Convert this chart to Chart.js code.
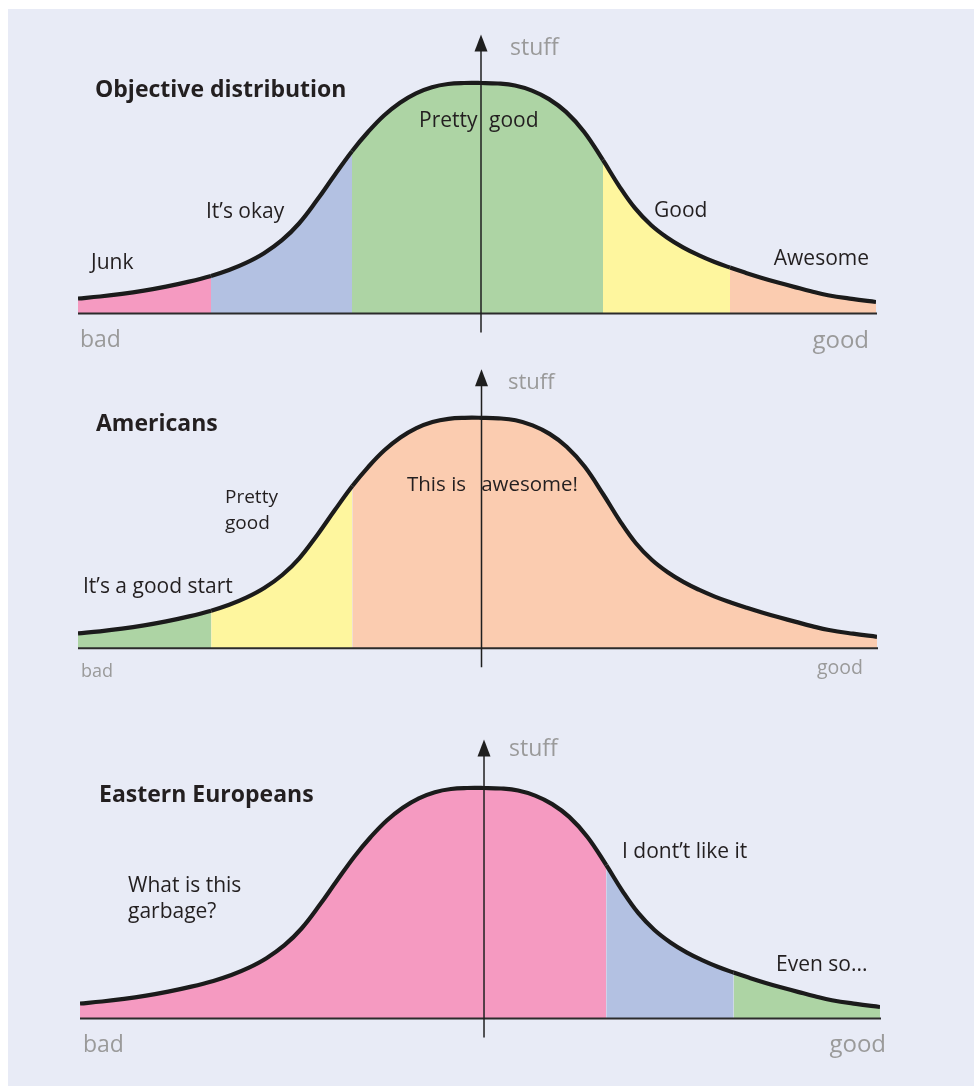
<!DOCTYPE html>
<html>
<head>
<meta charset="utf-8">
<script src="https://cdn.jsdelivr.net/npm/chart.js@4.4.1/dist/chart.umd.min.js"></script>
<style>
  html, body { margin: 0; padding: 0; background: #ffffff; width: 974px; height: 1086px; overflow: hidden; }
  #panel { position: absolute; left: 8px; top: 9px; right: 0; bottom: 0; background: #e8ebf6; }
  canvas { position: absolute; left: 0; }
</style>
</head>
<body>
<div id="panel"></div>
<canvas id="c1" width="974" height="362" style="top:0px"></canvas>
<canvas id="c2" width="974" height="340" style="top:362px"></canvas>
<canvas id="c3" width="974" height="384" style="top:702px"></canvas>
<script>
// ---------- DATA ----------
// position along the quality axis (bad -> good) and height of the curve ("stuff")
const curveX = [0, 22, 44, 66, 88, 111, 133, 151, 168, 186, 204, 221, 239, 256, 274,
                290, 306, 322, 338, 354, 370, 386, 403, 420, 437, 454, 471, 488, 506, 525,
                541, 557, 573, 589, 605, 620, 636, 652, 668, 684, 700, 717, 733, 750, 774, 798];
const curveY = [15, 17, 19.6, 22.9, 26.9, 31.9, 37.6, 43.5, 50.6, 60.3, 73.3, 90, 113.4, 137.5, 162.3,
                181.5, 198, 210.8, 220.2, 226.3, 229.5, 230.5, 230.5, 230, 228, 222.9, 214.4, 201.6, 181.8, 153.3,
                127.7, 105.3, 88.5, 76, 66.1, 58.6, 51.7, 45.9, 40.6, 35.6, 31, 26.4, 22.2, 18.3, 14.6, 11.5];
// band edges along the quality axis
const bandEdges = [0, 133, 274, 525, 652, 798];
// objective levels
const levels = ['Junk', 'It’s okay', 'Pretty good', 'Good', 'Awesome'];
// which objective level each band is perceived as
const objectiveLevels = [0, 1, 2, 3, 4];
const americanLevels  = [2, 3, 4, 4, 4];
const easternLevels   = [0, 0, 0, 1, 2];
const axisPosition = 403;

// ---------- STYLE ----------
const levelColors = ['#f59ac1', '#b3c1e2', '#add4a4', '#fef69e', '#fbccb0'];
const FONT = '"Open Sans", "Noto Sans", sans-serif';
const DARK = '#231f20';
const GREY = '#9a9a9a';

function bandIndex(x) {
  for (let i = 0; i < bandEdges.length - 1; i++) {
    if (x >= bandEdges[i] && x < bandEdges[i + 1]) return i;
  }
  return bandEdges.length - 2;
}

const decorPlugin = {
  id: 'decor',
  afterDatasetsDraw(chart, args, opts) {
    const ctx = chart.ctx;
    const xs = chart.scales.x, ys = chart.scales.y;
    const y0 = ys.getPixelForValue(0);
    const ax = xs.getPixelForValue(axisPosition);
    ctx.save();
    // baseline
    ctx.strokeStyle = '#2b2b2b';
    ctx.lineWidth = 2;
    ctx.beginPath();
    ctx.moveTo(xs.getPixelForValue(0), y0);
    ctx.lineTo(xs.getPixelForValue(798) + 1, y0);
    ctx.stroke();
    // vertical axis
    const tipY = ys.getPixelForValue(279);
    ctx.lineWidth = 1.5;
    ctx.strokeStyle = '#1f1f1f';
    ctx.beginPath();
    ctx.moveTo(ax, ys.getPixelForValue(-19));
    ctx.lineTo(ax, tipY + 10);
    ctx.stroke();
    ctx.fillStyle = '#1f1f1f';
    ctx.beginPath();
    ctx.moveTo(ax, tipY);
    ctx.lineTo(ax - 6.5, tipY + 17);
    ctx.lineTo(ax + 6.5, tipY + 17);
    ctx.closePath();
    ctx.fill();
    // texts
    const top = opts.top || 0;
    ctx.textBaseline = 'alphabetic';
    for (const t of opts.texts) {
      ctx.font = (t.bold ? 'bold ' : '') + t.size + 'px ' + FONT;
      ctx.fillStyle = t.grey ? GREY : DARK;
      ctx.textAlign = t.align || 'left';
      ctx.fillText(t.t, t.x, t.y - top);
    }
    ctx.restore();
  }
};

function makeChart(id, bandLevels, pad, top, texts) {
  return new Chart(document.getElementById(id), {
    type: 'line',
    data: {
      datasets: [{
        data: curveX.map((x, i) => ({ x: x, y: curveY[i] })),
        borderColor: '#1b1b1b',
        borderWidth: 4.2,
        pointRadius: 0,
        tension: 0.4,
        fill: 'origin',
        backgroundColor: levelColors[bandLevels[0]],
        segment: {
          backgroundColor: c => levelColors[bandLevels[bandIndex((c.p0.parsed.x + c.p1.parsed.x) / 2)]]
        }
      }]
    },
    options: {
      responsive: false,
      animation: false,
      layout: { padding: pad },
      plugins: { legend: { display: false }, tooltip: { enabled: false }, decor: { texts: texts, top: top } },
      scales: {
        x: { type: 'linear', min: 0, max: 798, display: false },
        y: { min: 0, max: 240, display: false }
      }
    },
    plugins: [decorPlugin]
  });
}

makeChart('c1', objectiveLevels, { left: 78, right: 98, top: 73.5, bottom: 48.5 }, 0, [
  { t: 'Objective distribution', x: 95, y: 97, size: 23, bold: true },
  { t: 'stuff', x: 510, y: 55, size: 23, grey: true },
  { t: 'Junk', x: 91, y: 269, size: 21 },
  { t: 'It’s okay', x: 206, y: 218, size: 21 },
  { t: 'Pretty', x: 419, y: 127, size: 21 },
  { t: 'good', x: 489, y: 127, size: 21 },
  { t: 'Good', x: 654, y: 217, size: 21 },
  { t: 'Awesome', x: 869, y: 265, size: 21, align: 'right' },
  { t: 'bad', x: 80, y: 347, size: 23, grey: true },
  { t: 'good', x: 869, y: 348, size: 24, grey: true, align: 'right' }
]);

makeChart('c2', americanLevels, { left: 78, right: 97, top: 46.3, bottom: 53.7 }, 362, [
  { t: 'Americans', x: 96, y: 431, size: 23, bold: true },
  { t: 'stuff', x: 508, y: 389, size: 22, grey: true },
  { t: 'Pretty', x: 225, y: 503, size: 19 },
  { t: 'good', x: 225, y: 529, size: 19 },
  { t: 'It’s a good start', x: 83, y: 593, size: 21 },
  { t: 'This is', x: 407, y: 491, size: 20.5 },
  { t: 'awesome!', x: 578, y: 491, size: 20.5, align: 'right' },
  { t: 'bad', x: 81, y: 677, size: 18, grey: true },
  { t: 'good', x: 863, y: 674, size: 19.5, grey: true, align: 'right' }
]);

makeChart('c3', easternLevels, { left: 80, right: 94, top: 76.5, bottom: 67.5 }, 702, [
  { t: 'Eastern Europeans', x: 99, y: 802, size: 23, bold: true },
  { t: 'stuff', x: 509, y: 756, size: 23, grey: true },
  { t: 'What is this', x: 128, y: 892, size: 21 },
  { t: 'garbage?', x: 128, y: 918, size: 21 },
  { t: 'I dont’t like it', x: 622, y: 858, size: 21 },
  { t: 'Even so...', x: 776, y: 971, size: 21 },
  { t: 'bad', x: 83, y: 1052, size: 23, grey: true },
  { t: 'good', x: 886, y: 1052, size: 24, grey: true, align: 'right' }
]);
</script>
</body>
</html>
